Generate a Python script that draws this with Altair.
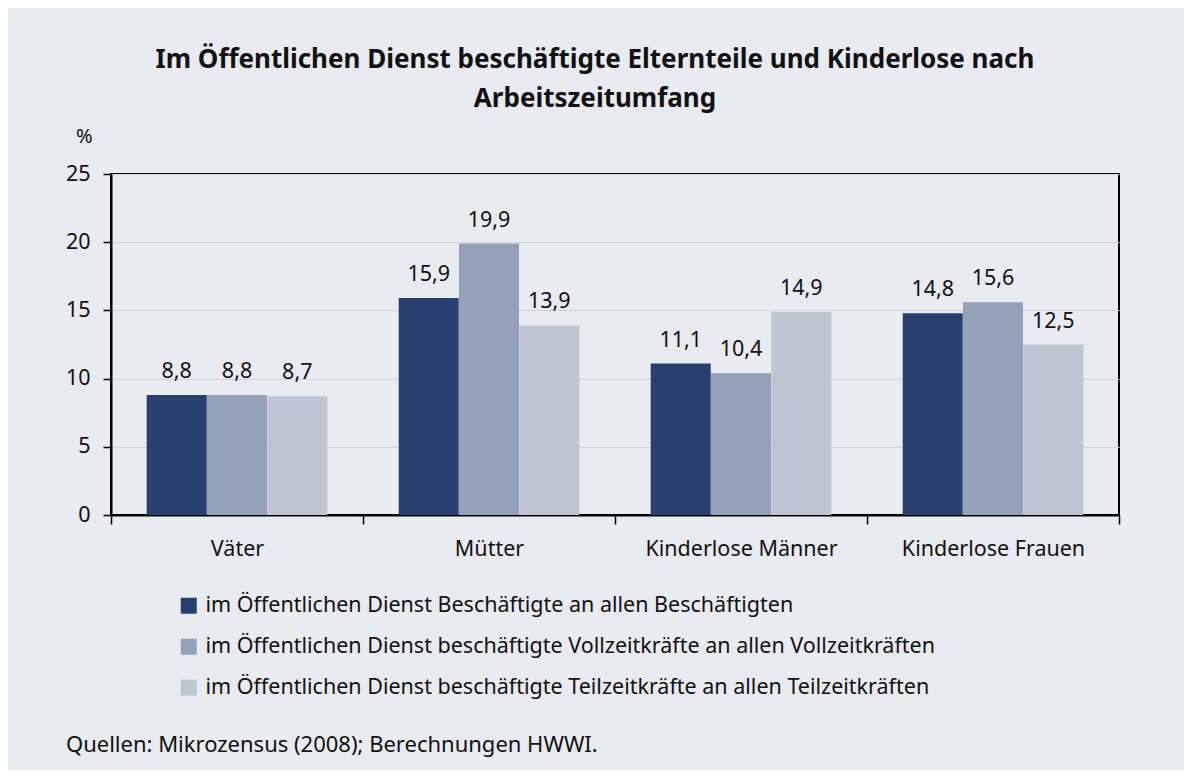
import altair as alt
import pandas as pd

categories = ["Väter", "Mütter", "Kinderlose Männer", "Kinderlose Frauen"]
series = [
    "im Öffentlichen Dienst Beschäftigte an allen Beschäftigten",
    "im Öffentlichen Dienst beschäftigte Vollzeitkräfte an allen Vollzeitkräften",
    "im Öffentlichen Dienst beschäftigte Teilzeitkräfte an allen Teilzeitkräften",
]
values_all = [8.8, 15.9, 11.1, 14.8]
values_full = [8.8, 19.9, 10.4, 15.6]
values_part = [8.7, 13.9, 14.9, 12.5]
colors = ["#28406e", "#95a1b9", "#bec5d3"]
title_lines = [
    "Im Öffentlichen Dienst beschäftigte Elternteile und Kinderlose nach",
    "Arbeitszeitumfang",
]
source_text = ["Quellen: Mikrozensus (2008); Berechnungen HWWI."]

rows = []
for s, vals in zip(series, [values_all, values_full, values_part]):
    for c, v in zip(categories, vals):
        rows.append({"Gruppe": c, "Reihe": s, "Wert": v})
df = pd.DataFrame(rows)

FONT = "Noto Sans"
FS = 21.5
W, H = 1008, 341

x_enc = alt.X(
    "Gruppe:N",
    sort=categories,
    scale=alt.Scale(paddingInner=0, paddingOuter=0),
    axis=alt.Axis(
        title=None,
        labelAngle=0,
        labelLimit=0,
        tickBand="extent",
        tickSize=9,
        tickColor="black",
        tickWidth=1.5,
        domainColor="black",
        domainWidth=2,
        labelFontSize=FS,
        labelColor="#111111",
        labelPadding=14,
        labelFont=FONT,
        grid=False,
    ),
)
xo_enc = alt.XOffset(
    "Reihe:N", sort=series, scale=alt.Scale(paddingInner=0, paddingOuter=0.59)
)
y_enc = alt.Y(
    "Wert:Q",
    scale=alt.Scale(domain=[0, 25]),
    axis=alt.Axis(
        values=[0, 5, 10, 15, 20, 25],
        title="%",
        titleAngle=0,
        titleAlign="right",
        titleBaseline="bottom",
        titleX=-19,
        titleY=-28,
        titleFontSize=20,
        titleFontWeight="normal",
        titleFont=FONT,
        titleColor="#111111",
        tickSize=8,
        tickColor="black",
        tickWidth=1.5,
        domainColor="black",
        domainWidth=2,
        labelFontSize=FS,
        labelFont=FONT,
        labelColor="#111111",
        labelPadding=13,
        grid=True,
        gridColor="#d2d6dc",
        gridWidth=1,
    ),
)

bars = alt.Chart(df).mark_bar(size=60).encode(
    x=x_enc,
    xOffset=xo_enc,
    y=y_enc,
    color=alt.Color(
        "Reihe:N",
        sort=series,
        scale=alt.Scale(domain=series, range=colors),
        legend=alt.Legend(
            title=None,
            orient="none",
            legendX=67,
            legendY=421,
            direction="vertical",
            symbolType="square",
            symbolSize=256,
            symbolStrokeWidth=0,
            labelFontSize=FS,
            labelFont=FONT,
            labelColor="#111111",
            labelLimit=0,
            labelOffset=6,
            rowPadding=18,
            padding=0,
        ),
    ),
)

labels = (
    alt.Chart(df)
    .transform_calculate(lab="replace(format(datum.Wert, '.1f'), '.', ',')")
    .mark_text(baseline="alphabetic", dy=-17, fontSize=FS, font=FONT, color="#111111")
    .encode(x=x_enc, xOffset=xo_enc, y=y_enc, text="lab:N")
)

source = (
    alt.Chart(pd.DataFrame({"t": source_text}))
    .mark_text(align="left", baseline="middle", fontSize=22, font=FONT, color="#111111")
    .encode(text="t:N", x=alt.value(-45), y=alt.value(571))
)

chart = (
    alt.layer(bars, labels, source)
    .properties(
        width=W,
        height=H,
        autosize=alt.AutoSizeParams(type="none"),
        padding={"left": 103, "top": 166, "right": 65, "bottom": 255},
        title=alt.TitleParams(
            text=title_lines,
            font=FONT,
            fontSize=26,
            fontWeight="bold",
            color="#111111",
            anchor="middle",
            dx=-20,
            offset=14,
            lineHeight=39,
        ),
    )
    .configure(background="#e8ebf0")
    .configure_view(stroke="black", strokeWidth=2)
)

chart.save("out.html", embed_options={"renderer": "svg", "actions": False})
